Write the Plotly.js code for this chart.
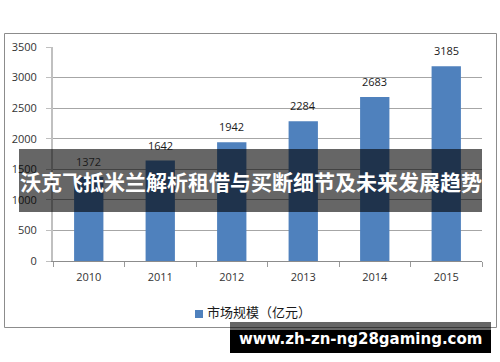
<!DOCTYPE html>
<html>
<head>
<meta charset="utf-8">
<script src="https://cdn.plot.ly/plotly-3.0.1.min.js"></script>
<style>
html,body{margin:0;padding:0;background:#fff;}
#chart{width:500px;height:362px;}
</style>
</head>
<body>
<div id="chart"></div>
<script>
var years = ['2010','2011','2012','2013','2014','2015'];
var marketSize = [1372, 1642, 1942, 2284, 2683, 3185];
var yTicks = [0, 500, 1000, 1500, 2000, 2500, 3000, 3500];
var seriesName = '市场规模（亿元）';
var bannerText = '沃克飞抵米兰解析租借与买断细节及未来发展趋势';
var watermarkText = 'www.zh-zn-ng28gaming.com';

var W = 500, H = 362;
var L = 53, R = 18, T = 47, B = 101;
var pw = W - L - R, ph = H - T - B;
function px(x){ return (x - L) / pw; }
function py(y){ return (H - B - y) / ph; }

var trace = {
  type: 'bar',
  x: years,
  y: marketSize,
  marker: {color: '#4F81BD'},
  width: 0.41,
  hoverinfo: 'none',
  showlegend: false
};

var annotations = years.map(function(yr, i){
  return {
    x: i, y: marketSize[i], xref: 'x', yref: 'y',
    text: String(marketSize[i]), showarrow: false,
    yanchor: 'bottom', yshift: 6,
    font: {family: 'Open Sans, DejaVu Sans, sans-serif', size: 11, color: '#1a1a1a'}
  };
});

annotations.push({
  xref: 'paper', yref: 'paper', x: px(205), y: py(311),
  xanchor: 'left', yanchor: 'middle', showarrow: false,
  text: seriesName,
  font: {family: 'Noto Sans CJK SC, sans-serif', size: 13, color: '#1a1a1a'}
});
annotations.push({
  xref: 'paper', yref: 'paper', x: px(250.5), y: py(181),
  xanchor: 'center', yanchor: 'middle', showarrow: false,
  text: '<b>' + bannerText + '</b>',
  font: {family: 'Noto Sans CJK SC, sans-serif', size: 21, color: '#ffffff'}
});
annotations.push({
  xref: 'paper', yref: 'paper', x: px(360.5), y: py(339),
  xanchor: 'center', yanchor: 'middle', showarrow: false,
  text: '<b>' + watermarkText + '</b>',
  font: {family: 'DejaVu Sans, sans-serif', size: 15, color: '#ffffff'}
});

var shapes = [
  {type:'rect', xref:'paper', yref:'paper', x0:px(4.5), x1:px(496.5), y0:py(327.5), y1:py(33.5),
   line:{color:'#8C8C8C', width:1}, fillcolor:'rgba(0,0,0,0)', layer:'below'},
  {type:'rect', xref:'paper', yref:'paper', x0:px(195), x1:px(203), y0:py(318), y1:py(310),
   line:{width:0}, fillcolor:'#4F81BD'},
  {type:'rect', xref:'paper', yref:'paper', x0:px(19), x1:px(482), y0:py(212), y1:py(149),
   line:{width:0}, fillcolor:'rgba(0,0,0,0.6)'},
  {type:'rect', xref:'paper', yref:'paper', x0:px(230), x1:px(491), y0:py(330), y1:py(322),
   line:{width:0}, fillcolor:'rgba(0,0,0,0.6)'},
  {type:'rect', xref:'paper', yref:'paper', x0:px(230), x1:px(491), y0:py(353), y1:py(330),
   line:{width:0}, fillcolor:'#000000'}
];

var layout = {
  width: W, height: H,
  margin: {l: L, r: R, t: T, b: B, pad: 0},
  paper_bgcolor: '#ffffff',
  plot_bgcolor: '#ffffff',
  showlegend: false,
  bargap: 0.59,
  xaxis: {
    type: 'category',
    range: [-0.5, years.length - 0.5],
    tickson: 'boundaries',
    ticks: 'outside', ticklen: 5, tickcolor: '#9A9A9A', tickwidth: 1,
    showline: true, linecolor: '#8C8C8C', linewidth: 1,
    showgrid: false, zeroline: false,
    ticklabelstandoff: 6,
    tickfont: {family: 'Open Sans, DejaVu Sans, sans-serif', size: 11, color: '#333333'}
  },
  yaxis: {
    range: [0, 3500],
    tickvals: yTicks,
    ticktext: yTicks.map(String),
    ticks: 'outside', ticklen: 5, tickcolor: '#BFBFBF', tickwidth: 1,
    showline: true, linecolor: '#C0C0C0', linewidth: 2,
    showgrid: true, gridcolor: '#A6A6A6', gridwidth: 1,
    zeroline: false,
    ticklabelstandoff: 7,
    tickfont: {family: 'Open Sans, DejaVu Sans, sans-serif', size: 11, color: '#333333'}
  },
  annotations: annotations,
  shapes: shapes
};

Plotly.newPlot('chart', [trace], layout, {displayModeBar: false, staticPlot: true});
</script>
</body>
</html>
